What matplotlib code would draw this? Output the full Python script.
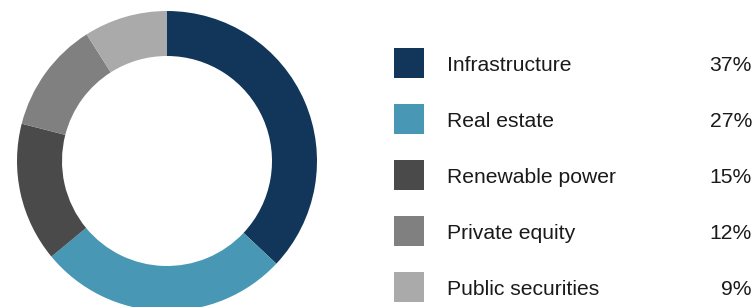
import matplotlib.pyplot as plt
from matplotlib.patches import Rectangle

categories = ['Infrastructure', 'Real estate', 'Renewable power', 'Private equity', 'Public securities']
shares = [37, 27, 15, 12, 9]
colors = ['#12365a', '#4898b5', '#4a4a4a', '#808080', '#aaaaaa']

plt.rcParams['font.family'] = ['Liberation Sans', 'DejaVu Sans']

W, H = 754, 307
fig = plt.figure(figsize=(W / 100, H / 100), dpi=100)
ax = fig.add_axes([0, 0, 1, 1])

# donut, clockwise from 12 o'clock
ax.pie(shares, colors=colors, startangle=90, counterclock=False,
       center=(167, H - 161), radius=150,
       wedgeprops=dict(width=45, linewidth=0))

# legend rows
for i, (name, val, c) in enumerate(zip(categories, shares, colors)):
    y = H - (63 + 56 * i)
    ax.add_patch(Rectangle((394, y - 15), 30, 30, color=c, linewidth=0))
    ax.text(447, y - 8, name, fontsize=15.2, color='#1a1a1a', va='baseline', ha='left')
    ax.text(752, y - 8, f'{val}%', fontsize=15.2, color='#1a1a1a', va='baseline', ha='right')

ax.set_xlim(0, W)
ax.set_ylim(0, H)
ax.set_aspect('equal')
ax.axis('off')

fig.savefig('out.png', dpi=100)
